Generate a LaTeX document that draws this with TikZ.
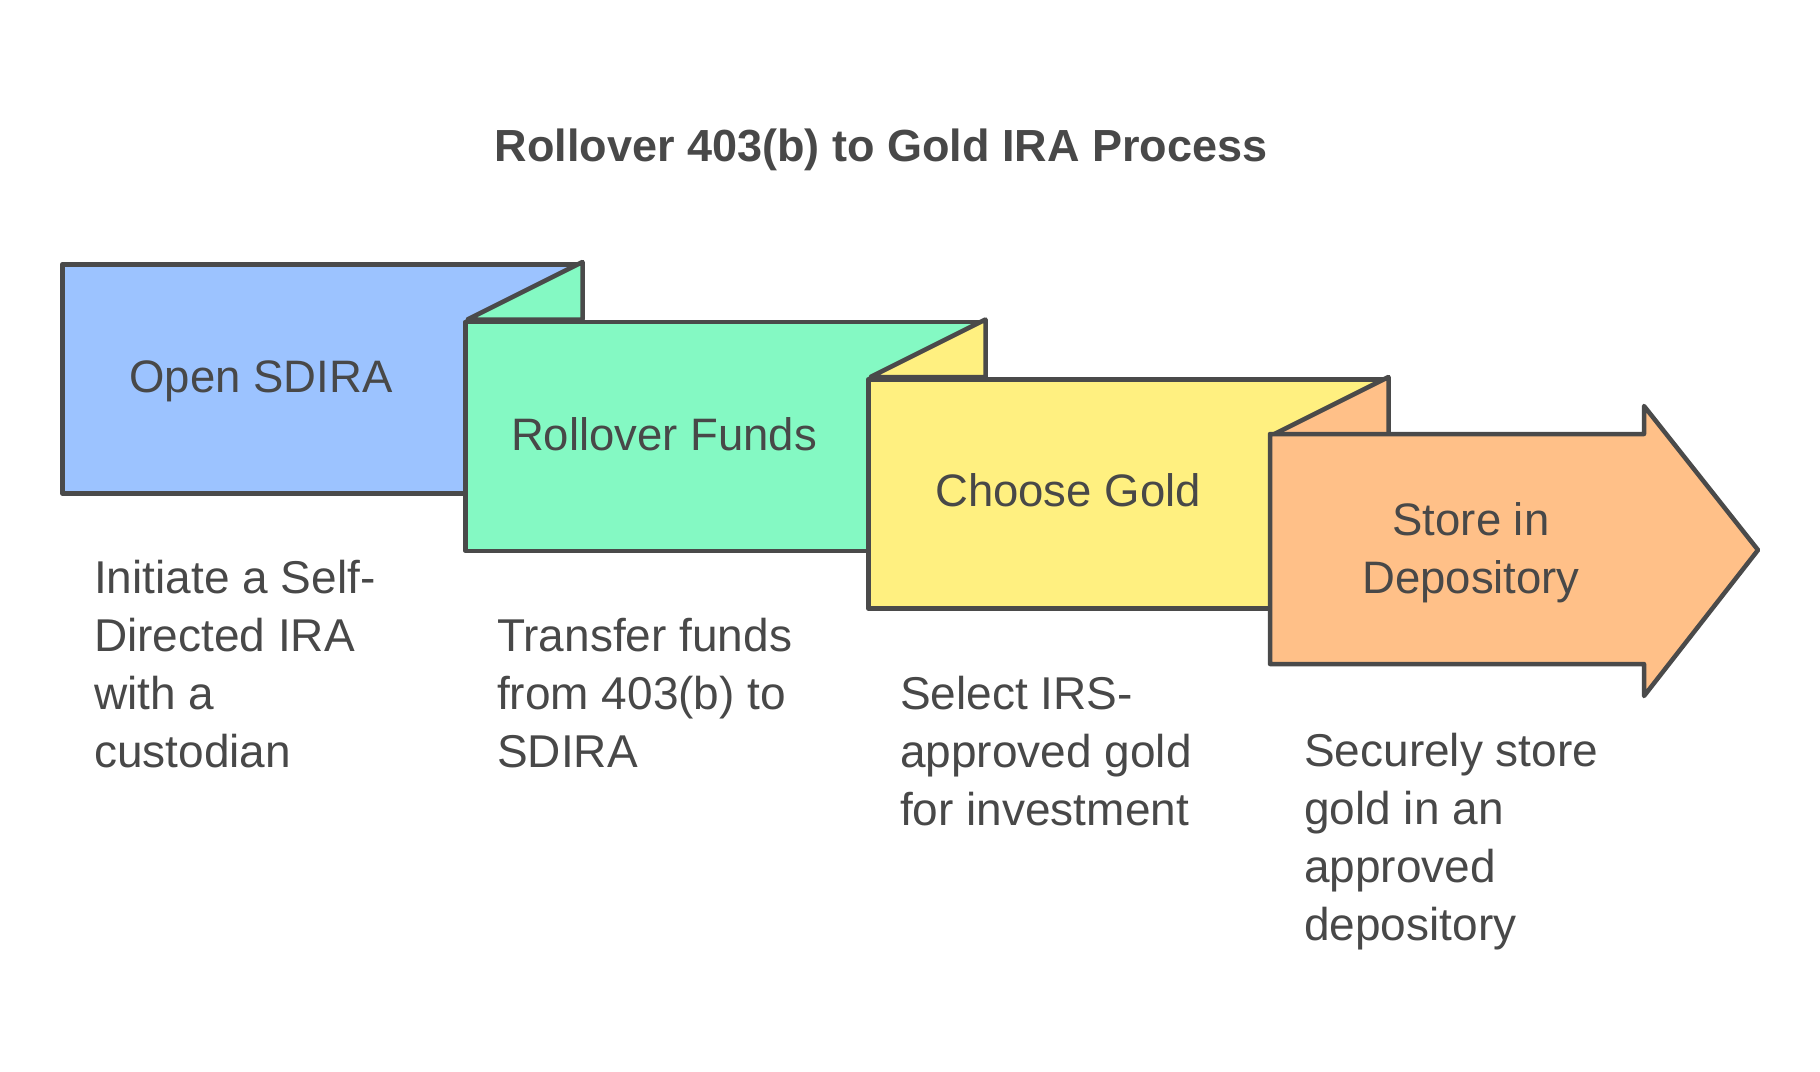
\documentclass[tikz,border=0pt]{standalone}
\usepackage{fontspec}
\setmainfont{Liberation Sans}
\definecolor{stepblue}{HTML}{9CC3FF}
\definecolor{stepgreen}{HTML}{84F9C3}
\definecolor{stepyellow}{HTML}{FFF080}
\definecolor{steporange}{HTML}{FFC088}
\definecolor{edgegray}{HTML}{4A4A4A}
\definecolor{inkgray}{HTML}{484848}
\begin{document}
\begin{tikzpicture}[x=1pt,y=-1pt]
            \tikzstyle{panel}=[rectangle, draw=edgegray, line width=4.5pt, line join=round, minimum width=518pt, minimum height=229pt, inner sep=0pt, anchor=north west]
            \tikzstyle{fold}=[draw=edgegray, line width=4.5pt, line join=round]
            \tikzstyle{steptext}=[text=inkgray, font=\fontsize{45.5}{58}\selectfont, align=center, anchor=base, inner sep=0pt]
            \tikzstyle{stepnote}=[text=inkgray, font=\fontsize{46}{58}\selectfont, align=left, anchor=base west, inner sep=0pt]

            \useasboundingbox (0,0) rectangle (1820,1071);

            \node[text=inkgray, font=\bfseries\fontsize{45}{54}\selectfont, anchor=base] (title) at (881,161) {Rollover 403(b) to Gold IRA Process};

            \node[panel, fill=stepblue] (open) at (60,262) {};
            \draw[fold, fill=stepgreen] (open.north east) -- ++(0,57.5) -- ++(-115,0) -- cycle;
            \node[panel, fill=stepgreen] (roll) at (463,319.5) {};
            \draw[fold, fill=stepyellow] (roll.north east) -- ++(0,57.5) -- ++(-115,0) -- cycle;
            \node[panel, fill=stepyellow] (gold) at (866,377) {};
            \draw[fold, fill=steporange] (gold.north east) -- ++(0,57.5) -- ++(-115,0) -- cycle;
            \draw[fold, fill=steporange] (1270,434) -- (1644,434) -- (1644,406) -- (1758,550) -- (1644,696) -- (1644,664) -- (1270,664) -- cycle;

            \node[steptext] (openlabel) at (261,392) {Open SDIRA};
            \node[steptext] (rolllabel) at (664,450) {Rollover Funds};
            \node[steptext] (goldlabel) at (1068,506) {Choose Gold};
            \node[steptext] (storelabel) at (1471,593) {Store in\\Depository};

            \node[stepnote] (opennote) at (94,767) {Initiate a Self-\\Directed IRA\\with a\\custodian};
            \node[stepnote] (rollnote) at (497,767) {Transfer funds\\from 403(b) to\\SDIRA};
            \node[stepnote] (goldnote) at (900,825) {Select IRS-\\approved gold\\for investment};
            \node[stepnote] (storenote) at (1304,940) {Securely store\\gold in an\\approved\\depository};
\end{tikzpicture}
\end{document}
